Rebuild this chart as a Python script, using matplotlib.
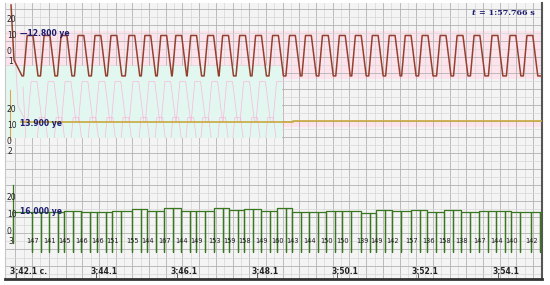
import matplotlib.pyplot as plt
from matplotlib.patches import Rectangle
import numpy as np

# time axis: seconds after 3:42.1
tick_t = [0, 2, 4, 6, 8, 10, 12]
tick_lbl = ["3:42.1 c.", "3:44.1", "3:46.1", "3:48.1", "3:50.1", "3:52.1", "3:54.1"]

# channel 1 (CO2-like trace): each breath leaves baseline at co2_on, returns at co2_off
co2_on = [0.188, 0.610, 1.033, 1.455, 1.877, 2.275, 2.722, 3.120, 3.517, 3.890,
          4.262, 4.685, 5.057, 5.480, 5.877, 6.300, 6.722, 7.120, 7.542, 7.964,
          8.362, 8.784, 9.206, 9.604, 10.026, 10.474, 10.896, 11.318, 11.765,
          12.213, 12.635]
co2_off = [0.548, 0.970, 1.393, 1.815, 2.237, 2.635, 3.082, 3.480, 3.877, 4.250,
           4.622, 5.045, 5.417, 5.840, 6.237, 6.660, 7.082, 7.480, 7.902, 8.324,
           8.722, 9.144, 9.566, 9.964, 10.386, 10.834, 11.256, 11.678, 12.125,
           12.573, 12.995]
co2_high = 10.0
co2_low = -14.5

# channel 2: flat trace with small steps
ch2_t = [0.12, 3.885, 6.90, 13.10]
ch2_v = [11.9, 12.3, 12.9, 12.9]

# channel 3: beat marks, levels between beats and printed rates
beat_spikes = [0.403, 0.613, 0.827, 1.037, 1.200, 1.410, 1.624, 1.834, 2.022, 2.232,
               2.396, 2.606, 2.894, 3.104, 3.268, 3.478, 3.691, 3.901, 4.114, 4.324,
               4.488, 4.698, 4.936, 5.146, 5.310, 5.520, 5.684, 5.894, 6.107, 6.317,
               6.506, 6.716, 6.879, 7.089, 7.303, 7.513, 7.726, 7.936, 8.124, 8.334,
               8.598, 8.808, 8.971, 9.181, 9.370, 9.580, 9.843, 10.053, 10.242, 10.452,
               10.665, 10.875, 11.088, 11.298, 11.537, 11.747, 11.960, 12.170, 12.334,
               12.544, 12.832, 13.042]
beat_level = [11.5, 11.5, 12.1, 11.5, 11.5, 12.1, 13.3, 12.1, 13.9, 12.1, 12.1, 13.9,
              12.7, 13.3, 12.1, 13.9, 11.5, 11.5, 12.1, 12.1, 10.9, 12.7, 12.1, 12.7,
              11.5, 12.7, 11.5, 12.1, 12.1, 11.5, 11.5]
rate_t = [0.423, 0.847, 1.220, 1.644, 2.042, 2.416, 2.914, 3.288, 3.711, 4.134,
          4.508, 4.956, 5.330, 5.704, 6.127, 6.526, 6.899, 7.323, 7.746, 8.144,
          8.618, 8.991, 9.390, 9.863, 10.262, 10.685, 11.108, 11.557, 11.980,
          12.354, 12.852]
rate_lbl = [147, 141, 145, 146, 146, 151, 155, 144, 167, 144, 149, 153, 159, 158,
            149, 160, 143, 144, 150, 150, 139, 149, 142, 157, 136, 158, 138, 147,
            144, 140, 142]
ch3_bottom = -12.7

# screen layout (rows from top), gain in rows per unit
row_zero = [52, 142, 231]
gain = 1.65
t_left, t_right = -0.274, 13.10

fig = plt.figure(figsize=(5.5, 2.85), dpi=100)
fig.patch.set_facecolor("white")
ax = fig.add_axes([5 / 550, 6 / 285, 537 / 550, 276 / 285])
ax.set_xlim(t_left, t_right)
ax.set_ylim(279, 3)
ax.set_facecolor("#f4f4f4")

def row(ch, v):
    return row_zero[ch] - gain * np.asarray(v)

# grid
step = 16.7 / 40.15
ax.set_xticks(np.arange(t_left + 0.26, t_right, step))
ax.set_xticks(np.arange(t_left + 0.26 + step / 2, t_right, step), minor=True)
ax.set_yticks(np.arange(8.6, 279, 16.06))
ax.set_yticks(np.arange(8.6 + 8.03, 279, 16.06), minor=True)
ax.grid(which="major", color="#b2b2b2", lw=0.6)
ax.grid(which="minor", color="#d6d6d6", lw=0.5)
ax.tick_params(which="both", length=0, labelbottom=False, labelleft=False)
ax.set_axisbelow(True)

# background bands
ax.add_patch(Rectangle((t_left, 31), t_right - t_left, 48, color="#fde4ec", zorder=0.5, lw=0))
ax.add_patch(Rectangle((t_left, 122), t_right - t_left, 5, color="#fde4ec", zorder=0.5, lw=0))
ghost_box = Rectangle((t_left, 66), 6.63 - t_left, 72, color="#e2f7f0", zorder=0.6, lw=0)
ax.add_patch(ghost_box)

# channel 1 trace
x1 = [-0.124, -0.05, 0.15]
y1 = [28.5, -4.8, co2_low]
for a, b in zip(co2_on, co2_off):
    x1 += [a, a + 0.09, b - 0.125, b]
    y1 += [co2_low, co2_high, co2_high, co2_low]
x1.append(t_right)
y1.append(co2_low)
x1 = np.array(x1)
y1 = np.array(y1)

# faint pink ghost of channel 1 over the mint box
for dy, dx in [(46, 0.1), (82, 0.3)]:
    g, = ax.plot(x1 + dx, row(0, y1) + dy, color="#ffa8d6", lw=0.5, alpha=0.8, zorder=0.8)
    g.set_clip_path(ghost_box)

ax.plot(x1, row(0, y1), color="#95402f", lw=1.1, zorder=3)

# channel 2
ax.plot([-0.15, -0.15], [90, 140], color="#e0a050", lw=0.8, zorder=3)
ax.step(ch2_t, row(1, ch2_v), where="post", color="#c8a83c", lw=1.2, zorder=3)

# channel 3
x3 = [-0.075, -0.075, -0.075, -0.025]
y3 = [27.9, -7.0, beat_level[0], beat_level[0]]
for i, s in enumerate(beat_spikes):
    before = beat_level[max(0, (i - 1) // 2)]
    after = beat_level[min(len(beat_level) - 1, i // 2)]
    x3 += [s, s, s]
    y3 += [before, ch3_bottom, after]
x3.append(t_right)
y3.append(beat_level[-1])
ax.plot(x3, row(2, y3), color="#3a7620", lw=0.9, zorder=3)

for t, r in zip(rate_t, rate_lbl):
    ax.text(t, 241, str(r), fontsize=4.8, color="#1a1a1a", ha="center", va="center",
            zorder=4)

# scale labels per channel
for ch in range(3):
    for v in (20, 10, 0):
        ax.text(-0.23, row(ch, v), str(v), fontsize=5.5, color="#222222",
                va="center", ha="left", zorder=4)
    ax.text(-0.2, row_zero[ch] + 10, str(ch + 1), fontsize=5.5, color="#222222",
            va="center", ha="left", zorder=4)

navy = "#1c1c70"
ax.text(0.1, 34, "\u201412.800 ye", fontsize=5.5, color=navy, fontweight="bold",
        va="center", ha="left", zorder=4)
ax.text(0.1, 123, "13.900 ye", fontsize=5.5, color=navy, fontweight="bold",
        va="center", ha="left", zorder=4)
ax.text(0.1, 211, "16.000 ye", fontsize=5.5, color=navy, fontweight="bold",
        va="center", ha="left", zorder=4)
ax.text(11.45, 13, "t", fontsize=6, color=navy, fontweight="bold", fontstyle="italic",
        family="DejaVu Serif", va="center", ha="right", zorder=4)
ax.text(11.52, 13, "= 1:57.766 s", fontsize=5.8, color=navy, fontweight="bold",
        family="DejaVu Serif", va="center", ha="left", zorder=4)

# time labels
for t, s in zip(tick_t, tick_lbl):
    ax.text(t - 0.14, 271, s, fontsize=5.5, color="#222222", fontweight="bold",
            va="center", ha="left", zorder=4)
    ax.plot([t, t], [274, 278], color="#444444", lw=0.6, zorder=4)

ax.spines["top"].set_visible(False)
ax.spines["left"].set_color("#c8c8c8")
ax.spines["right"].set_color("#555555")
ax.spines["right"].set_linewidth(1.5)
ax.spines["bottom"].set_color("#333333")
ax.spines["bottom"].set_linewidth(2)

fig.savefig("out.png", dpi=100)
